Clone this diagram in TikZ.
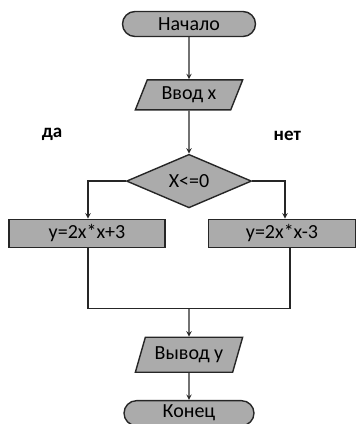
\documentclass[tikz,border=0pt]{standalone}
\usepackage{fontspec}
\setmainfont{Carlito}
\usetikzlibrary{arrows,
                positioning,
                shapes}
\tikzstyle{block} = [draw=black!85, fill=black!33, line width=1.4pt, inner sep=0pt,
                     font=\fontsize{20}{22}\selectfont]
\tikzstyle{term} = [block, rounded rectangle, minimum width=133pt, minimum height=25pt]
\tikzstyle{io} = [block, trapezium, trapezium left angle=64, trapezium right angle=116,
                  trapezium stretches=true, minimum width=108pt, minimum height=30pt]
\tikzstyle{proc} = [block, rectangle, minimum height=28pt]
\tikzstyle{cond} = [block, diamond, minimum width=125pt, minimum height=50pt]
\tikzstyle{lbl} = [font=\fontsize{19}{21}\selectfont\bfseries]
\tikzstyle{arrow} = [line width=1.4pt, draw=black!85, ->, >=stealth]
\tikzstyle{line} = [line width=1.4pt, draw=black!85]

\begin{document}
\begin{tikzpicture}[x=1pt, y=1pt]
    \useasboundingbox (0,0) rectangle (357,-424);

    \node[term] (start) at (189,-24) {Начало};
    \node[io] (in) [below=42pt of start] {Ввод x};
    \node[cond] (dia) [below=43pt of in] {X<=0};

    \node[proc, minimum width=156pt] (yes) [below=10pt of dia.south, xshift=-102pt] {y=2x*x+3};
    \node[proc, minimum width=147pt] (no) [below=10pt of dia.south, xshift=93pt] {y=2x*x-3};

    \node[lbl] (da) [left=60pt of dia.west, yshift=47pt] {да};
    \node[lbl] (net) [right=18pt of dia.east, yshift=45pt] {нет};

    \coordinate[below=100pt of dia.south] (join);
    \node[io, minimum height=35pt] (out) [below=28pt of join] {Вывод y};
    \node[term, minimum width=130pt] (end) [below=27pt of out] {Конец};

    \draw [arrow] (start) -- (in);
    \draw [arrow] (in) -- (dia);
    \draw [arrow] (dia.west) -| ([xshift=1pt]yes.north);
    \draw [arrow] (dia.east) -| ([xshift=3pt]no.north);
    \draw [line] ([xshift=1pt]yes.south) |- (join) -| ([xshift=8pt]no.south);
    \draw [arrow] (join) -- (out);
    \draw [arrow] (out) -- (end);
\end{tikzpicture}
\end{document}
